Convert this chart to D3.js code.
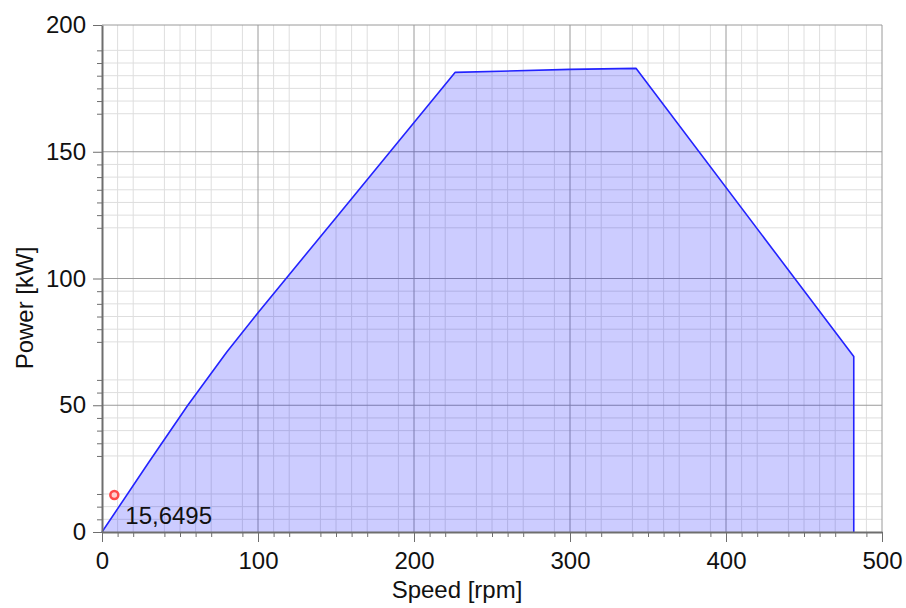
<!DOCTYPE html>
<html>
<head>
<meta charset="utf-8">
<script src="https://cdn.jsdelivr.net/npm/d3@7"></script>
<style>
  body { margin: 0; background: #fff; }
  svg { display: block; font-family: "Liberation Sans", Arial, sans-serif; }
</style>
</head>
<body>
<svg id="chart"></svg>
<script>
// curve points (speed rpm, power kW)
const speed = [0, 30, 55, 80, 100, 150, 226.3, 300, 342.3, 481.9, 481.9]
const power = [0, 27.5, 50, 71, 86.5, 124, 181.3, 182.5, 182.9, 69.2, 0]

// major ticks
const xTicks = [0, 100, 200, 300, 400, 500]
const yTicks = [0, 50, 100, 150, 200]
// minor grid as it shows in the picture
const xMinor = [10, 20, 40, 50, 60, 70, 90, 110, 120, 140, 150, 160, 170, 190, 210, 220, 240, 250,
  260, 270, 290, 310, 320, 340, 350, 360, 370, 390, 410, 420, 440, 450, 460, 470, 490]
const yMinor = [5, 10, 15, 30, 35, 40, 45, 55, 60, 75, 80, 85, 90, 95, 120, 125, 130, 135, 140, 145,
  165, 170, 175, 180, 185, 190]

// cursor marker
const markerPoint = [7.9, 14.6]
const markerLabel = '15,6495'

const width = 906
const height = 608
const margin = ({top: 25, right: 24, bottom: 76, left: 102})

const data = speed.map((s, i) => ({speed: s, power: power[i]}))

const svg = d3.select('#chart')
  .attr('width', width)
  .attr('height', height)

const x = d3.scaleLinear()
  .domain([0, 500])
  .range([margin.left, width - margin.right])

const y = d3.scaleLinear()
  .domain([0, 200])
  .range([height - margin.bottom, margin.top])

// minor grid
svg.append('g')
  .selectAll('line')
  .data(xMinor)
  .join('line')
    .attr('x1', d => x(d)).attr('x2', d => x(d))
    .attr('y1', y(0)).attr('y2', y(200))
    .attr('stroke', '#dedede')
svg.append('g')
  .selectAll('line')
  .data(yMinor)
  .join('line')
    .attr('y1', d => y(d)).attr('y2', d => y(d))
    .attr('x1', x(0)).attr('x2', x(500))
    .attr('stroke', '#dedede')

// major grid
svg.append('g')
  .selectAll('line')
  .data(xTicks.slice(1))
  .join('line')
    .attr('x1', d => x(d)).attr('x2', d => x(d))
    .attr('y1', y(0)).attr('y2', y(200))
    .attr('stroke', '#9a9a9a')
svg.append('g')
  .selectAll('line')
  .data(yTicks.slice(1))
  .join('line')
    .attr('y1', d => y(d)).attr('y2', d => y(d))
    .attr('x1', x(0)).attr('x2', x(500))
    .attr('stroke', '#9a9a9a')

// area + outline
const area = d3.area()
  .x(d => x(d.speed))
  .y0(y(0))
  .y1(d => y(d.power))

svg.append('path')
  .datum(data)
  .attr('fill', 'rgb(0,0,255)')
  .attr('fill-opacity', 0.2)
  .attr('d', area)

const line = d3.line()
  .x(d => x(d.speed))
  .y(d => y(d.power))

svg.append('path')
  .datum(data)
  .attr('fill', 'none')
  .attr('stroke', '#2323ff')
  .attr('stroke-width', 1.6)
  .attr('stroke-linejoin', 'round')
  .attr('d', line)

// x-axis
const xAxis = svg.append('g')
  .attr('transform', `translate(0, ${y(0)})`)
xAxis.append('g')
  .call(d3.axisBottom(x).tickValues(xMinor).tickSize(5).tickFormat(''))
  .call(g => g.select('.domain').remove())
xAxis.append('g')
  .call(d3.axisBottom(x).tickValues(xTicks).tickSize(10).tickSizeOuter(0).tickPadding(10))
  .call(g => g.select('.domain').attr('stroke-width', 2))
xAxis.selectAll('line').attr('stroke', '#6e6e6e')
xAxis.selectAll('.domain').attr('stroke', '#6e6e6e')
xAxis.selectAll('text')
  .attr('font-size', 24)
  .attr('fill', '#111')

// y-axis
const yAxis = svg.append('g')
  .attr('transform', `translate(${x(0)}, 0)`)
yAxis.append('g')
  .call(d3.axisLeft(y).tickValues(yMinor).tickSize(5).tickFormat(''))
  .call(g => g.select('.domain').remove())
yAxis.append('g')
  .call(d3.axisLeft(y).tickValues(yTicks).tickSize(9).tickSizeOuter(0).tickPadding(7))
  .call(g => g.select('.domain').attr('stroke-width', 2))
yAxis.selectAll('line').attr('stroke', '#6e6e6e')
yAxis.selectAll('.domain').attr('stroke', '#6e6e6e')
yAxis.selectAll('text')
  .attr('font-size', 24)
  .attr('fill', '#111')

// axis titles
svg.append('text')
  .attr('x', 457)
  .attr('y', 598)
  .attr('text-anchor', 'middle')
  .attr('font-size', 24)
  .attr('fill', '#111')
  .text('Speed [rpm]')

svg.append('text')
  .attr('transform', 'translate(33, 308) rotate(-90)')
  .attr('text-anchor', 'middle')
  .attr('font-size', 24)
  .attr('fill', '#111')
  .text('Power [kW]')

// marker
svg.append('circle')
  .attr('cx', x(markerPoint[0]))
  .attr('cy', y(markerPoint[1]))
  .attr('r', 4)
  .attr('fill', '#ffd0d0')
  .attr('stroke', '#ff4a4a')
  .attr('stroke-width', 2.5)

svg.append('text')
  .attr('x', x(markerPoint[0]) + 11)
  .attr('y', y(markerPoint[1]) + 29)
  .attr('font-size', 24)
  .attr('fill', '#111')
  .text(markerLabel)
</script>
</body>
</html>
